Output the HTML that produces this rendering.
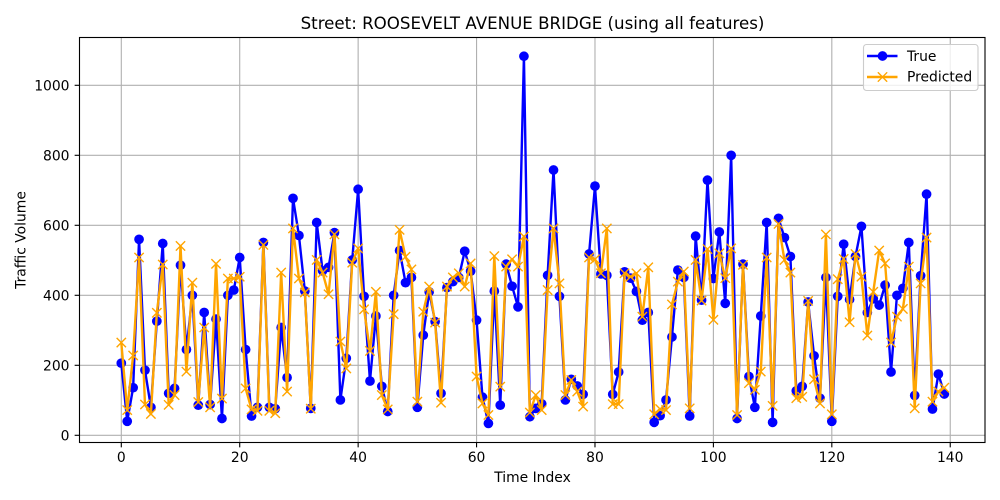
<!DOCTYPE html>
<html lang="en">
<head>
<meta charset="utf-8">
<title>Street: ROOSEVELT AVENUE BRIDGE (using all features)</title>
<style>
html,body{margin:0;padding:0;background:#fff;width:1000px;height:500px;overflow:hidden}
svg{display:block}
text{font-family:"DejaVu Sans","Liberation Sans",sans-serif;fill:#000}
</style>
</head>
<body>
<svg id="chart" xmlns="http://www.w3.org/2000/svg" width="1000" height="500" viewBox="0 0 1000 500">
  <rect x="0" y="0" width="1000" height="500" fill="#fff"/>
  <text x="532.5" y="29" font-size="16.67" text-anchor="middle">Street: ROOSEVELT AVENUE BRIDGE (using all features)</text>
  <text x="532.5" y="482" font-size="13.89" text-anchor="middle">Time Index</text>
  <text x="25.3" y="240" font-size="13.89" text-anchor="middle" transform="rotate(-90 25.3 240)">Traffic Volume</text>
  <g id="grid"></g>
  <g id="series"></g>
  <rect x="79.5" y="37.5" width="905.5" height="405" fill="none" stroke="#000" stroke-width="1.11"/>
  <g id="ticks"></g>
  <g id="legend">
    <rect x="863.5" y="44.5" width="114.5" height="46" rx="3" ry="3" fill="#fff" fill-opacity="0.8" stroke="#ccc" stroke-width="1.11"/>
    <g>
      <line x1="867" y1="56" x2="897.5" y2="56" stroke="#0000ff" stroke-width="2.4"/>
      <circle cx="882.5" cy="56" r="4.86" fill="#0000ff"/>
      <text x="907" y="61" font-size="13.89">True</text>
    </g>
    <g>
      <line x1="867" y1="77" x2="897.5" y2="77" stroke="#ffa500" stroke-width="2.4"/>
      <path d="M878.3 72.8L886.7 81.2M878.3 81.2L886.7 72.8" stroke="#ffa500" stroke-width="1.39" stroke-linecap="square" fill="none"/>
      <text x="907" y="81.5" font-size="13.89">Predicted</text>
    </g>
  </g>
</svg>
<script>
const trueValues = [206,40,136,560,186,80,326,548,120,134,486,245,400,86,351,88,332,48,400,415,
508,245,55,80,551,80,76,308,165,677,571,412,77,608,470,480,579,101,220,501,
703,397,155,341,140,68,400,528,436,451,80,286,410,325,120,422,439,451,526,469,
329,109,34,412,86,489,426,367,1083,53,77,90,457,758,397,101,160,141,117,518,
712,461,457,117,181,467,449,411,329,351,37,56,101,281,472,451,55,569,386,729,
448,581,377,800,48,489,168,80,341,608,37,620,565,511,127,140,381,227,106,451,
40,397,546,388,511,597,351,390,372,429,181,400,420,551,114,456,689,75,175,118];
const predictedValues = [265,72,228,508,88,61,350,488,87,115,541,182,436,95,308,80,490,105,448,448,
453,134,74,70,544,70,63,465,125,591,448,408,76,501,465,403,574,268,191,493,
534,360,241,410,115,74,346,587,510,474,96,353,425,322,93,425,451,463,425,491,
168,91,58,512,139,482,503,482,568,65,115,72,415,591,434,115,158,125,82,508,
503,463,591,89,89,463,453,463,339,480,60,75,72,374,439,468,77,501,385,532,
330,520,449,534,58,487,149,130,182,508,84,604,501,465,106,110,384,160,91,574,
60,446,504,323,518,453,285,410,528,491,265,339,361,482,77,434,565,96,125,136];
const xTickLabels = [0,20,40,60,80,100,120,140];
const yTickLabels = [0,200,400,600,800,1000];

const SVG_NS = 'http://www.w3.org/2000/svg';
const PLOT_LEFT = 79.5, PLOT_RIGHT = 985, PLOT_TOP = 37.5, PLOT_BOTTOM = 442.5;
function xScale(v){ return 121.3 + v * 5.921; }
function yScale(v){ return 435.3 - v * 0.35; }
function mk(parent, tag, attrs){
  const el = document.createElementNS(SVG_NS, tag);
  for (const k in attrs) el.setAttribute(k, attrs[k]);
  parent.appendChild(el);
  return el;
}
const gridG = document.getElementById('grid');
const ticksG = document.getElementById('ticks');
const seriesG = document.getElementById('series');

xTickLabels.forEach(function(t){
  const x = xScale(t);
  const g = mk(gridG, 'line', {x1:x, x2:x, y1:PLOT_TOP, y2:PLOT_BOTTOM, stroke:'#b0b0b0', 'stroke-width':1.11});
  
  
  const m = mk(ticksG, 'line', {x1:x, x2:x, y1:PLOT_BOTTOM, y2:PLOT_BOTTOM + 4.86, stroke:'#000', 'stroke-width':1.11});
  
  
  const l = mk(ticksG, 'text', {x:x, y:462, 'font-size':13.89, 'text-anchor':'middle'});
  
  
  l.textContent = t;
});
yTickLabels.forEach(function(t){
  const y = yScale(t);
  const g = mk(gridG, 'line', {x1:PLOT_LEFT, x2:PLOT_RIGHT, y1:y, y2:y, stroke:'#b0b0b0', 'stroke-width':1.11});
  
  
  const m = mk(ticksG, 'line', {x1:PLOT_LEFT - 4.86, x2:PLOT_LEFT, y1:y, y2:y, stroke:'#000', 'stroke-width':1.11});
  
  
  const l = mk(ticksG, 'text', {x:PLOT_LEFT - 10, y:y + 5.4, 'font-size':13.89, 'text-anchor':'end'});
  
  
  l.textContent = t;
});
function linePoints(values){
  return values.map(function(v, i){ return xScale(i).toFixed(2) + ',' + yScale(v).toFixed(2); }).join(' ');
}
const trueLine = mk(seriesG, 'polyline', {points:linePoints(trueValues), fill:'none', stroke:'#0000ff', 'stroke-width':2.4, 'stroke-linejoin':'round'});


trueValues.forEach(function(v, i){
  const c = mk(seriesG, 'circle', {cx:xScale(i), cy:yScale(v), r:4.86, fill:'#0000ff'});
  
  
});
const predictedLine = mk(seriesG, 'polyline', {points:linePoints(predictedValues), fill:'none', stroke:'#ffa500', 'stroke-width':2.4, 'stroke-linejoin':'round'});


predictedValues.forEach(function(v, i){
  const x = xScale(i), y = yScale(v), r = 4.17;
  const p = mk(seriesG, 'path', {d:'M' + (x-r) + ' ' + (y-r) + 'L' + (x+r) + ' ' + (y+r) + 'M' + (x-r) + ' ' + (y+r) + 'L' + (x+r) + ' ' + (y-r), stroke:'#ffa500', 'stroke-width':1.39, 'stroke-linecap':'square', fill:'none'});
  
  
});
</script>
</body>
</html>
